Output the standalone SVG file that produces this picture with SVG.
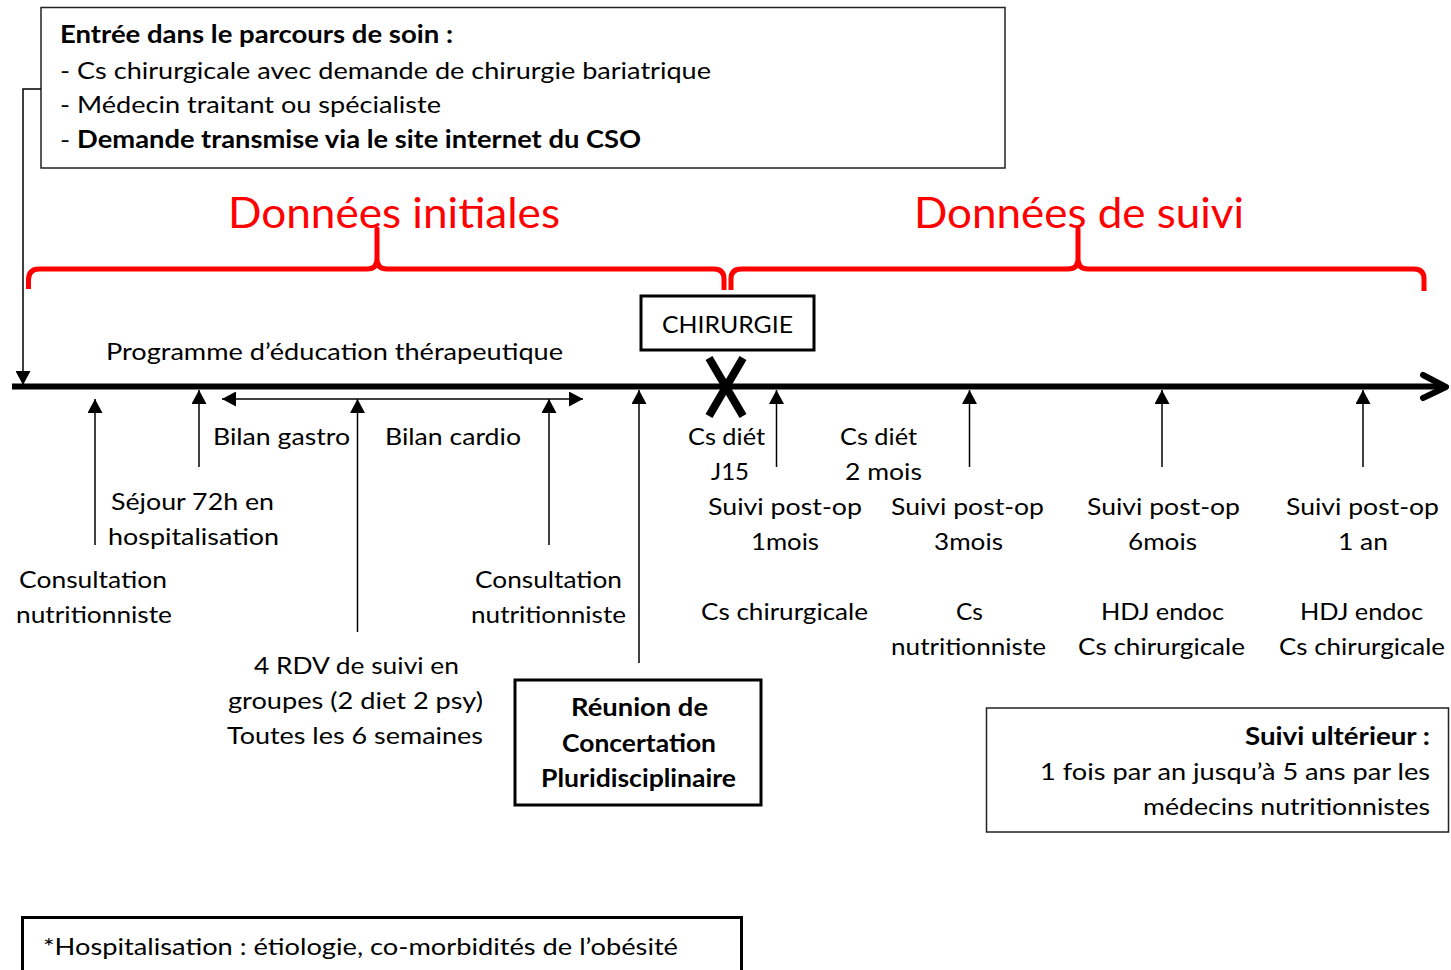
<svg xmlns="http://www.w3.org/2000/svg" width="1451" height="970" viewBox="0 0 1451 970">
<style>
text{font-family:Lato,"Open Sans","Liberation Sans",sans-serif;font-size:24px;fill:#000}
.b{font-weight:bold}
.red{fill:#FF0000;font-size:43px}
.thin{stroke:#000;stroke-width:1.5;fill:none}
.box{fill:#fff;stroke:#000;stroke-width:3}
.boxt{fill:#fff;stroke:#222;stroke-width:1.5}
.brace{fill:none;stroke:#FF0000;stroke-width:5;stroke-linejoin:round}
</style>
<defs>
<marker id="ah" viewBox="0 0 14 15" refX="14" refY="7.5" markerWidth="14" markerHeight="15" markerUnits="userSpaceOnUse" orient="auto-start-reverse"><path d="M0,0 L14,7.5 L0,15 z" fill="#000"/></marker>
</defs>
<rect width="1451" height="970" fill="#fff"/>

<g id="entree">
<rect class="boxt" x="41" y="7.5" width="964" height="160.5"/>
<text x="60" y="43" class="b" textLength="393" lengthAdjust="spacingAndGlyphs">Entrée dans le parcours de soin :</text>
<text x="60" y="79" textLength="651" lengthAdjust="spacingAndGlyphs">- Cs chirurgicale avec demande de chirurgie bariatrique</text>
<text x="60" y="113" textLength="381" lengthAdjust="spacingAndGlyphs">- Médecin traitant ou spécialiste</text>
<text x="60" y="148" textLength="581" lengthAdjust="spacingAndGlyphs">- <tspan class="b">Demande transmise via le site internet du CSO</tspan></text>
</g>

<g id="donnees-initiales">
<text x="228" y="228" class="red" textLength="332" lengthAdjust="spacingAndGlyphs">Données initiales</text>
<path class="brace" d="M28.5,289 V280 Q28.5,269 39,269 H367 Q377,269 377,259 V229 V259 Q377,269 387,269 H714 Q724,269 724,279 V290"/>
</g>
<g id="donnees-suivi">
<text x="914" y="228" class="red" textLength="330" lengthAdjust="spacingAndGlyphs">Données de suivi</text>
<path class="brace" d="M731,290 V279 Q731,269 741,269 H1068 Q1078,269 1078,259 V229 V259 Q1078,269 1088,269 H1414 Q1424,269 1424,279 V291"/>
</g>

<g id="timeline">
<line x1="12" y1="386.5" x2="1444" y2="386.5" stroke="#000" stroke-width="6"/>
<polyline points="1423,375 1446,387 1423,398" fill="none" stroke="#000" stroke-width="6" stroke-linecap="round" stroke-linejoin="round"/>
</g>

<g id="chirurgie">
<rect class="box" x="641" y="296" width="173" height="54"/>
<text x="662" y="333" textLength="131" lengthAdjust="spacingAndGlyphs">CHIRURGIE</text>
<line x1="709" y1="358" x2="743" y2="416" stroke="#000" stroke-width="8"/>
<line x1="743" y1="358" x2="709" y2="416" stroke="#000" stroke-width="8"/>
</g>

<g id="connectors">
<path class="thin" d="M41,89 H23 V385" marker-end="url(#ah)"/>
<line class="thin" x1="95" y1="545" x2="95" y2="399" marker-end="url(#ah)"/>
<line class="thin" x1="199" y1="467" x2="199" y2="390" marker-end="url(#ah)"/>
<line class="thin" x1="222" y1="399" x2="583" y2="399" marker-start="url(#ah)" marker-end="url(#ah)"/>
<line class="thin" x1="357.5" y1="632" x2="357.5" y2="399" marker-end="url(#ah)"/>
<line class="thin" x1="549" y1="545" x2="549" y2="399" marker-end="url(#ah)"/>
<line class="thin" x1="639" y1="663" x2="639" y2="390" marker-end="url(#ah)"/>
<line class="thin" x1="776.5" y1="467" x2="776.5" y2="390" marker-end="url(#ah)"/>
<line class="thin" x1="969.5" y1="467" x2="969.5" y2="390" marker-end="url(#ah)"/>
<line class="thin" x1="1162" y1="467" x2="1162" y2="390" marker-end="url(#ah)"/>
<line class="thin" x1="1363" y1="467" x2="1363" y2="390" marker-end="url(#ah)"/>
</g>

<g id="programme">
<text x="106" y="360" textLength="457" lengthAdjust="spacingAndGlyphs">Programme d’éducation thérapeutique</text>
</g>
<g id="bilan-gastro"><text x="213" y="445" textLength="137" lengthAdjust="spacingAndGlyphs">Bilan gastro</text></g>
<g id="bilan-cardio"><text x="385" y="445" textLength="136" lengthAdjust="spacingAndGlyphs">Bilan cardio</text></g>
<g id="sejour">
<text x="111" y="510" textLength="163" lengthAdjust="spacingAndGlyphs">Séjour 72h en</text>
<text x="108" y="545" textLength="171" lengthAdjust="spacingAndGlyphs">hospitalisation</text>
</g>
<g id="consult-nutri-1">
<text x="19" y="588" textLength="148" lengthAdjust="spacingAndGlyphs">Consultation</text>
<text x="16" y="623" textLength="156" lengthAdjust="spacingAndGlyphs">nutritionniste</text>
</g>
<g id="consult-nutri-2">
<text x="475" y="588" textLength="147" lengthAdjust="spacingAndGlyphs">Consultation</text>
<text x="471" y="623" textLength="155" lengthAdjust="spacingAndGlyphs">nutritionniste</text>
</g>
<g id="rdv-groupes">
<text x="254" y="674" textLength="205" lengthAdjust="spacingAndGlyphs">4 RDV de suivi en</text>
<text x="228" y="709" textLength="255" lengthAdjust="spacingAndGlyphs">groupes (2 diet 2 psy)</text>
<text x="227" y="744" textLength="256" lengthAdjust="spacingAndGlyphs">Toutes les 6 semaines</text>
</g>
<g id="rcp">
<rect class="box" x="515" y="680" width="246" height="125"/>
<text x="571" y="716" class="b" textLength="137" lengthAdjust="spacingAndGlyphs">Réunion de</text>
<text x="562" y="752" class="b" textLength="154" lengthAdjust="spacingAndGlyphs">Concertation</text>
<text x="541" y="787" class="b" textLength="195" lengthAdjust="spacingAndGlyphs">Pluridisciplinaire</text>
</g>
<g id="cs-diet-j15">
<text x="688" y="445" textLength="77" lengthAdjust="spacingAndGlyphs">Cs diét</text>
<text x="711" y="480" textLength="38" lengthAdjust="spacingAndGlyphs">J15</text>
</g>
<g id="cs-diet-2mois">
<text x="840" y="445" textLength="77" lengthAdjust="spacingAndGlyphs">Cs diét</text>
<text x="845" y="480" textLength="77" lengthAdjust="spacingAndGlyphs">2 mois</text>
</g>
<g id="suivi-1mois">
<text x="708" y="515" textLength="154" lengthAdjust="spacingAndGlyphs">Suivi post-op</text>
<text x="751" y="550" textLength="68" lengthAdjust="spacingAndGlyphs">1mois</text>
<text x="701" y="620" textLength="167" lengthAdjust="spacingAndGlyphs">Cs chirurgicale</text>
</g>
<g id="suivi-3mois">
<text x="891" y="515" textLength="153" lengthAdjust="spacingAndGlyphs">Suivi post-op</text>
<text x="934" y="550" textLength="69" lengthAdjust="spacingAndGlyphs">3mois</text>
<text x="956" y="620" textLength="27" lengthAdjust="spacingAndGlyphs">Cs</text>
<text x="891" y="655" textLength="155" lengthAdjust="spacingAndGlyphs">nutritionniste</text>
</g>
<g id="suivi-6mois">
<text x="1087" y="515" textLength="153" lengthAdjust="spacingAndGlyphs">Suivi post-op</text>
<text x="1128" y="550" textLength="69" lengthAdjust="spacingAndGlyphs">6mois</text>
<text x="1101" y="620" textLength="123" lengthAdjust="spacingAndGlyphs">HDJ endoc</text>
<text x="1078" y="655" textLength="167" lengthAdjust="spacingAndGlyphs">Cs chirurgicale</text>
</g>
<g id="suivi-1an">
<text x="1286" y="515" textLength="153" lengthAdjust="spacingAndGlyphs">Suivi post-op</text>
<text x="1338" y="550" textLength="50" lengthAdjust="spacingAndGlyphs">1 an</text>
<text x="1300" y="620" textLength="123" lengthAdjust="spacingAndGlyphs">HDJ endoc</text>
<text x="1279" y="655" textLength="166" lengthAdjust="spacingAndGlyphs">Cs chirurgicale</text>
</g>
<g id="suivi-ulterieur">
<rect class="boxt" x="986.5" y="708" width="462" height="124"/>
<text x="1245" y="745" class="b" textLength="185" lengthAdjust="spacingAndGlyphs">Suivi ultérieur :</text>
<text x="1040" y="780" textLength="390" lengthAdjust="spacingAndGlyphs">1 fois par an jusqu’à 5 ans par les</text>
<text x="1143" y="815" textLength="287" lengthAdjust="spacingAndGlyphs">médecins nutritionnistes</text>
</g>
<g id="note-hospitalisation">
<rect class="box" x="22.5" y="917.5" width="719" height="70"/>
<text x="43" y="955" textLength="635" lengthAdjust="spacingAndGlyphs">*Hospitalisation : étiologie, co-morbidités de l’obésité</text>
</g>
</svg>
